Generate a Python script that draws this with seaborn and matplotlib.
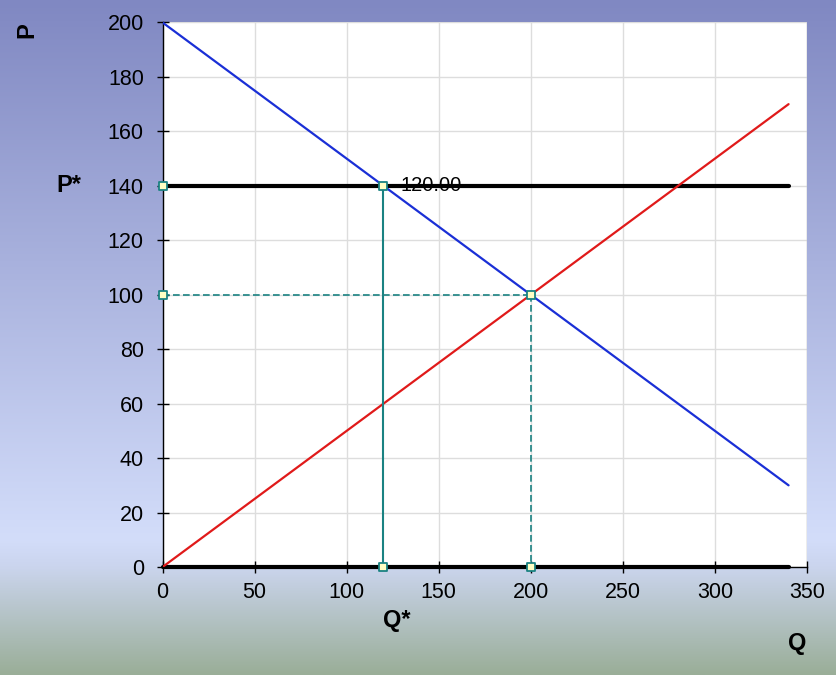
import numpy as np
import pandas as pd
import matplotlib
matplotlib.use("Agg")
import matplotlib.pyplot as plt
import seaborn as sns
from matplotlib.colors import LinearSegmentedColormap

# Data
demand_q = [0, 340]
demand_p = [200, 30]
supply_q = [0, 340]
supply_p = [0, 170]
ceiling_q = [0, 340]
ceiling_p = [140, 140]
base_q = [0, 340]
base_p = [0, 0]

qstar_q = [120, 120]
qstar_p = [0, 140]
eq_h_q = [0, 200]
eq_h_p = [100, 100]
eq_v_q = [200, 200]
eq_v_p = [100, 0]

marker_q = [0, 120, 120, 0, 200, 200]
marker_p = [140, 140, 0, 100, 100, 0]

x_ticks = [0, 50, 100, 150, 200, 250, 300, 350]
y_ticks = [0, 20, 40, 60, 80, 100, 120, 140, 160, 180, 200]
point_label = "120.00"

sns.set_style("white")
plt.rcParams["font.family"] = ["Liberation Sans", "DejaVu Sans"]
plt.rcParams["text.color"] = "black"

fig = plt.figure(figsize=(8.36, 6.75), dpi=100)

# background gradient
bg = fig.add_axes([0, 0, 1, 1], zorder=0)
cmap = LinearSegmentedColormap.from_list(
    "bg",
    [(0.0, "#8088c2"), (0.80, "#d3ddfa"), (0.84, "#cbd5ee"), (1.0, "#9aae98")],
)
grad = np.linspace(0, 1, 256).reshape(-1, 1)
bg.imshow(grad, aspect="auto", cmap=cmap, extent=[0, 1, 0, 1], origin="upper")
bg.axis("off")

ax = fig.add_axes([0.1944, 0.16, 0.7709, 0.8067], zorder=1)
ax.set_facecolor("white")

teal = "#1a8282"

sns.lineplot(x=demand_q, y=demand_p, ax=ax, color="#1a2fd6", linewidth=1.6, zorder=3)
sns.lineplot(x=supply_q, y=supply_p, ax=ax, color="#e01a1a", linewidth=1.6, zorder=3)
sns.lineplot(x=ceiling_q, y=ceiling_p, ax=ax, color="black", linewidth=3, zorder=2)
sns.lineplot(x=base_q, y=base_p, ax=ax, color="black", linewidth=3, zorder=2, clip_on=False)
sns.lineplot(x=qstar_q, y=qstar_p, ax=ax, color=teal, linewidth=1.5, zorder=3,
             estimator=None, sort=False)
ax.plot(eq_h_q, eq_h_p, color=teal, linewidth=1.2, linestyle=(0, (4, 2)), zorder=3)
ax.plot(eq_v_q, eq_v_p, color=teal, linewidth=1.2, linestyle=(0, (4, 2)), zorder=3)
ax.scatter(marker_q, marker_p, marker="s", s=36, facecolor="#ffffc4",
           edgecolor=teal, linewidth=1.3, zorder=5, clip_on=False)

ax.text(129, 140, point_label, fontsize=14.5, va="center", ha="left", color="black", zorder=1)

ax.set_xlim(0, 350)
ax.set_ylim(0, 200)
ax.set_xticks(x_ticks)
ax.set_yticks(y_ticks)
ax.grid(True, color="#dddddd", linewidth=1)
ax.tick_params(axis="both", direction="inout", length=9, width=1, labelsize=15.5,
               colors="black", labelcolor="black", left=True, bottom=True)
ax.tick_params(axis="x", pad=6)
ax.tick_params(axis="y", pad=9)
for side in ["top", "right"]:
    ax.spines[side].set_visible(False)
ax.spines["left"].set_color("black")
ax.spines["bottom"].set_color("black")
ax.spines["left"].set_linewidth(1)
ax.spines["bottom"].set_linewidth(1)
ax.axvline(350, color="#bbbbbb", linewidth=1)
ax.set_xlabel("")
ax.set_ylabel("")

fig.text(0.032, 0.955, "P", rotation=90, fontsize=17, fontweight="bold", ha="center", va="center")
fig.text(0.082, 0.725, "P*", fontsize=17, fontweight="bold", ha="center", va="center")
fig.text(0.474, 0.081, "Q*", fontsize=17, fontweight="bold", ha="center", va="center")
fig.text(0.953, 0.047, "Q", fontsize=17, fontweight="bold", ha="center", va="center")

fig.savefig("out.png", dpi=100)
